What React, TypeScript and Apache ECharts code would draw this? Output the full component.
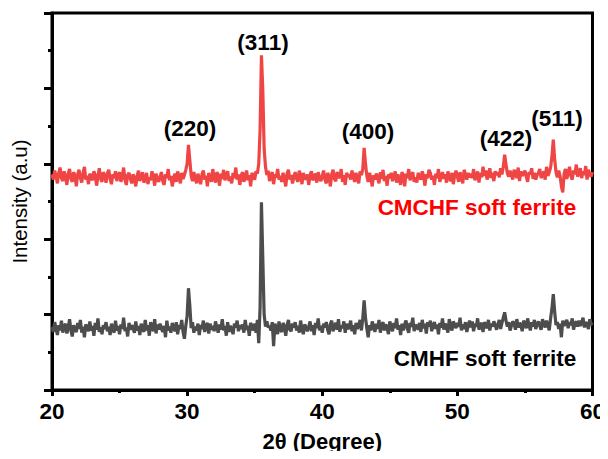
import React, { useEffect, useRef } from "react";
import * as echarts from "echarts";

// Scan grid: 2θ from 20.0 to 60.0 in 0.1° steps (401 points)
const START = 20;
const STEP = 0.1;

// CMCHF soft ferrite (red), intensity in a.u. ×100; one row per degree (x.0 … x.9)
const cmchf: number[] = [
  286, 279, 291, 284, 274, 288, 295, 281, 277, 290,
  283, 272, 287, 293, 280, 276, 289, 284, 270, 286,
  292, 281, 275, 288, 296, 279, 284, 273, 287, 282,
  278, 290, 285, 271, 283, 294, 280, 276, 289, 284,
  275, 287, 292, 280, 273, 286, 281, 290, 277, 284,
  289, 276, 283, 295, 279, 272, 285, 288, 280, 274,
  286, 281, 270, 284, 291, 277, 283, 289, 275, 280,
  288, 273, 282, 278, 290, 284, 271, 287, 280, 276,
  283, 289, 277, 272, 286, 281, 293, 278, 284, 270,
  281, 287, 276, 290, 283, 274, 288, 280, 285, 292,
  300, 325, 305, 284, 277, 289, 281, 274, 287, 280,
  273, 286, 291, 279, 284, 270, 288, 282, 276, 293,
  281, 275, 289, 284, 271, 287, 280, 292, 278, 285,
  290, 277, 283, 274, 288, 281, 295, 279, 286, 272,
  284, 289, 276, 282, 291, 278, 285, 270, 288, 283,
  279, 290, 287, 300, 345, 444, 398, 320, 296, 285,
  291, 277, 284, 289, 273, 286, 282, 293, 279, 284,
  276, 288, 281, 270, 287, 292, 279, 285, 274, 283,
  289, 280, 276, 291, 284, 273, 288, 282, 279, 286,
  272, 285, 290, 278, 283, 287, 275, 289, 281, 277,
  284, 291, 279, 274, 288, 283, 270, 286, 292, 280,
  277, 289, 284, 281, 293, 276, 285, 272, 288, 283,
  286, 279, 291, 283, 276, 288, 281, 274, 290, 285,
  293, 321, 300, 284, 276, 288, 281, 270, 285, 279,
  287, 282, 274, 289, 280, 292, 277, 284, 271, 286,
  281, 288, 277, 283, 290, 275, 286, 280, 272, 289,
  284, 270, 287, 281, 293, 278, 285, 289, 276, 282,
  275, 288, 283, 279, 290, 284, 271, 286, 281, 292,
  288, 279, 284, 272, 287, 281, 293, 276, 283, 289,
  280, 286, 275, 290, 282, 277, 288, 273, 285, 291,
  283, 276, 289, 281, 274, 292, 286, 279, 288, 282,
  287, 281, 293, 278, 284, 290, 275, 288, 282, 296,
  284, 291, 279, 286, 294, 281, 288, 277, 290, 285,
  289, 282, 294, 286, 296, 312, 299, 287, 283, 291,
  285, 279, 292, 288, 281, 295, 277, 290, 284, 287,
  291, 283, 276, 289, 286, 294, 280, 288, 279, 285,
  288, 293, 281, 286, 290, 279, 296, 284, 289, 295,
  310, 332, 306, 289, 282, 291, 284, 270, 262, 287,
  293, 280, 288, 296, 284, 279, 291, 286, 299, 283,
  288, 294, 281, 290, 285, 297, 279, 292, 286, 283,
  289,
];

// CMHF soft ferrite (dark grey)
const cmhf: number[] = [
  84, 77, 90, 81, 73, 86, 79, 92, 76, 83,
  88, 75, 82, 94, 79, 71, 86, 80, 77, 89,
  81, 93, 76, 84, 70, 87, 82, 78, 91, 79,
  85, 72, 89, 80, 95, 77, 83, 74, 86, 81,
  90, 78, 84, 73, 88, 82, 76, 92, 79, 85,
  74, 87, 81, 96, 78, 83, 71, 89, 80, 86,
  82, 76, 91, 79, 85, 73, 88, 81, 77, 93,
  79, 86, 72, 90, 83, 78, 94, 75, 87, 80,
  88, 81, 77, 85, 70, 92, 79, 84, 76, 89,
  83, 78, 90, 74, 86, 81, 93, 77, 68, 85,
  98, 135, 112, 82, 90, 76, 84, 79, 88, 73,
  86, 81, 92, 77, 84, 89, 75, 88, 80, 85,
  78, 91, 83, 76, 87, 80, 94, 79, 85, 72,
  90, 77, 85, 81, 74, 88, 83, 92, 78, 86,
  81, 87, 76, 93, 80, 85, 72, 89, 84, 79,
  88, 76, 93, 62, 110, 249, 175, 100, 84, 91,
  83, 85, 79, 90, 58, 88, 82, 74, 91, 80,
  77, 89, 84, 72, 86, 93, 80, 78, 88, 83,
  90, 79, 85, 76, 92, 81, 74, 87, 83, 78,
  84, 91, 78, 86, 73, 89, 82, 95, 79, 85,
  76, 88, 83, 90, 80, 74, 87, 92, 78, 84,
  89, 80, 94, 77, 85, 82, 91, 76, 88, 81,
  83, 92, 78, 86, 74, 89, 81, 85, 93, 79,
  95, 119, 96, 82, 70, 86, 79, 91, 84, 77,
  88, 81, 93, 76, 85, 90, 79, 87, 82, 74,
  91, 84, 78, 89, 82, 95, 80, 86, 73, 88,
  79, 87, 92, 81, 76, 89, 84, 96, 78, 85,
  86, 80, 89, 77, 93, 82, 88, 75, 90, 84,
  92, 78, 85, 90, 81, 87, 74, 89, 83, 95,
  80, 88, 83, 76, 94, 85, 79, 91, 86, 82,
  89, 84, 96, 79, 87, 81, 90, 77, 85, 92,
  83, 91, 78, 88, 84, 95, 80, 86, 89, 77,
  90, 85, 82, 93, 79, 88, 84, 91, 86, 80,
  87, 93, 81, 89, 96, 103, 92, 84, 90, 79,
  85, 91, 88, 80, 94, 83, 89, 86, 78, 92,
  88, 82, 95, 86, 79, 90, 84, 93, 81, 87,
  91, 85, 80, 94, 88, 83, 92, 86, 79, 95,
  108, 127, 104, 86, 90, 81, 88, 70, 92, 85,
  89, 93, 82, 90, 86, 95, 80, 88, 91, 84,
  92, 85, 89, 96, 83, 90, 87, 81, 94, 88,
  86,
];

const xTicks = [20, 30, 40, 50, 60];
const peakLabels = ["(220)", "(311)", "(400)", "(422)", "(511)"];
const seriesNames = ["CMCHF soft ferrite", "CMHF soft ferrite"];

const FONT = "'Liberation Sans', Arial, sans-serif";

function toPairs(vals: number[]): [number, number][] {
  return vals.map((v, i) => [Math.round((START + i * STEP) * 10) / 10, v]);
}

export default function App() {
  const ref = useRef<HTMLDivElement>(null);
  useEffect(() => {
    if (!ref.current) return;
    const chart = echarts.init(ref.current, undefined, { renderer: "svg" });
    const labelPos = [
      [190, 128],
      [263, 42],
      [368, 131],
      [506, 138],
      [557, 118],
    ];
    const annot = (text: string, x: number, y: number, fill: string) => ({
      type: "text",
      x,
      y,
      style: {
        text,
        fontFamily: FONT,
        fontSize: 22.5,
        fontWeight: "bold",
        fill,
        textAlign: "center",
        textVerticalAlign: "middle",
      },
    });
    chart.setOption({
      animation: false,
      backgroundColor: "#ffffff",
      grid: {
        left: 52,
        right: 12,
        top: 13,
        bottom: 69,
        show: true,
        borderColor: "#000",
        borderWidth: 3,
      },
      xAxis: {
        type: "value",
        min: xTicks[0],
        max: xTicks[xTicks.length - 1],
        interval: 10,
        name: "2θ (Degree)",
        nameLocation: "middle",
        nameGap: 40,
        nameTextStyle: { fontFamily: FONT, fontSize: 22, fontWeight: "bold", color: "#000" },
        axisLine: { show: true, lineStyle: { color: "#000", width: 3 } },
        axisTick: { show: true, inside: false, length: 6, lineStyle: { color: "#000", width: 3 } },
        minorTick: { show: true, splitNumber: 2, length: 3, lineStyle: { color: "#000", width: 3 } },
        axisLabel: { fontFamily: FONT, fontSize: 22.5, fontWeight: "bold", color: "#000", margin: 10 },
        splitLine: { show: false },
      },
      yAxis: {
        type: "value",
        min: 0,
        max: 500,
        interval: 100,
        name: "Intensity (a.u)",
        nameLocation: "middle",
        nameGap: 22,
        nameRotate: 90,
        nameTextStyle: { fontFamily: FONT, fontSize: 20.5, color: "#000" },
        axisLine: { show: true, lineStyle: { color: "#000", width: 3 } },
        axisTick: { show: true, inside: false, length: 8, lineStyle: { color: "#000", width: 3 } },
        minorTick: { show: true, splitNumber: 2, length: 4, lineStyle: { color: "#000", width: 3 } },
        axisLabel: { show: false },
        splitLine: { show: false },
      },
      series: [
        {
          name: seriesNames[0],
          type: "line",
          data: toPairs(cmchf),
          showSymbol: false,
          lineStyle: { color: "#f04545", width: 3.2 },
          itemStyle: { color: "#f04545" },
        },
        {
          name: seriesNames[1],
          type: "line",
          data: toPairs(cmhf),
          showSymbol: false,
          lineStyle: { color: "#4d4d4d", width: 3.2 },
          itemStyle: { color: "#4d4d4d" },
        },
      ],
      graphic: [
        ...peakLabels.map((t, i) => annot(t, labelPos[i][0], labelPos[i][1], "#000")),
        annot(seriesNames[0], 477, 207, "#ff0000"),
        annot(seriesNames[1], 485, 358, "#000"),
      ],
    });
    return () => chart.dispose();
  }, []);
  return <div ref={ref} style={{ width: 608, height: 459, margin: -8 }} />;
}
